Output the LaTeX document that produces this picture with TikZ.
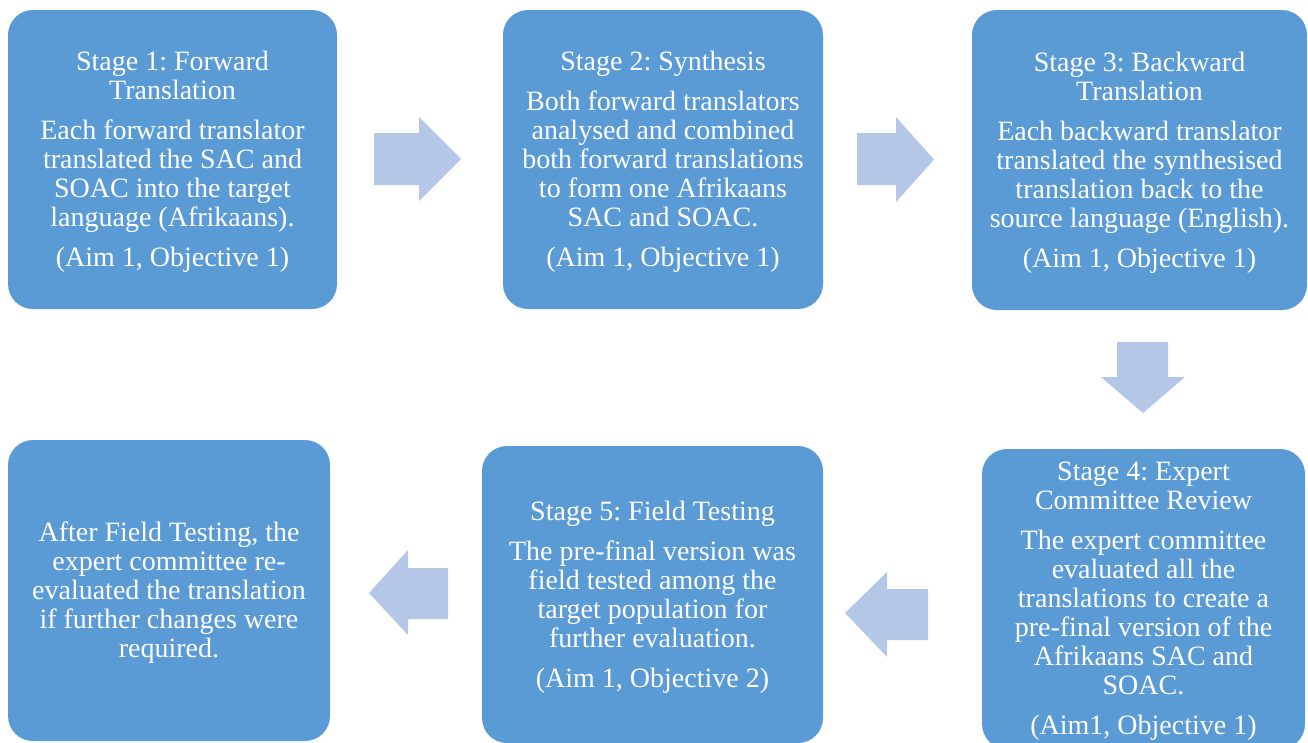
\documentclass[tikz,border=0pt]{standalone}
\usepackage{fontspec}
\setmainfont{Liberation Serif}
\frenchspacing
\definecolor{boxblue}{HTML}{5B9BD5}
\definecolor{arrowblue}{HTML}{B4C7E7}
\tikzset{
  stagebox/.style={fill=boxblue, draw=none, rounded corners=25pt, inner sep=0pt},
  stagetext/.style={text=white, align=center, inner sep=0pt,
    font=\fontsize{28}{29}\selectfont\frenchspacing},
  blockarrow/.style={fill=arrowblue, draw=none}
}
\begin{document}
\begin{tikzpicture}[x=1pt,y=-1pt]
\useasboundingbox (0,0) rectangle (1308,742);
\clip (0,0) rectangle (1308,742);
% boxes
\node[stagebox, minimum width=329pt, minimum height=299pt] (s1) at (172.5,159.5) {};
\node[stagebox, minimum width=320pt, minimum height=299pt] (s2) at (663,159.5) {};
\node[stagebox, minimum width=335pt, minimum height=300pt] (s3) at (1139.5,160) {};
\node[stagebox, minimum width=323pt, minimum height=300pt] (s4) at (1143.5,599) {};
\node[stagebox, minimum width=341pt, minimum height=297pt] (s5) at (652.5,594.5) {};
\node[stagebox, minimum width=322pt, minimum height=301pt] (s6) at (169,590.5) {};
% texts
\node[stagetext] (t1) at ([yshift=-2.5pt]s1.center)
  {Stage 1: Forward\\Translation\\[11pt]Each forward translator\\translated the SAC and\\SOAC into the target\\language (Afrikaans).\\[11pt](Aim 1, Objective 1)};
\node[stagetext] (t2) at ([yshift=-2.5pt]s2.center)
  {Stage 2: Synthesis\\[11pt]Both forward translators\\analysed and combined\\both forward translations\\to form one Afrikaans\\SAC and SOAC.\\[11pt](Aim 1, Objective 1)};
\node[stagetext] (t3) at ([yshift=-2.5pt]s3.center)
  {Stage 3: Backward\\Translation\\[11pt]Each backward translator\\translated the synthesised\\translation back to the\\source language (English).\\[11pt](Aim 1, Objective 1)};
\node[stagetext] (t4) at ([yshift=-2.5pt]s4.center)
  {Stage 4: Expert\\Committee Review\\[11pt]The expert committee\\evaluated all the\\translations to create a\\pre-final version of the\\Afrikaans SAC and\\SOAC.\\[11pt](Aim1, Objective 1)};
\node[stagetext] (t5) at ([yshift=-2.5pt]s5.center)
  {Stage 5: Field Testing\\[11pt]The pre-final version was\\field tested among the\\target population for\\further evaluation.\\[11pt](Aim 1, Objective 2)};
\node[stagetext] (t6) at ([yshift=-2.5pt]s6.center)
  {After Field Testing, the\\expert committee re-\\evaluated the translation\\if further changes were\\required.};
% block arrows
\fill[blockarrow] (374,133) -- (419,133) -- (419,117) -- (461,159) -- (419,201) -- (419,185) -- (374,185) -- cycle;
\fill[blockarrow] (857,133) -- (896,133) -- (896,117) -- (934,159.5) -- (896,202) -- (896,185) -- (857,185) -- cycle;
\fill[blockarrow] (1117,342) -- (1168,342) -- (1168,377) -- (1185,377) -- (1143,413) -- (1101,377) -- (1117,377) -- cycle;
\fill[blockarrow] (928,589) -- (887,589) -- (887,572) -- (845,613) -- (887,657) -- (887,640) -- (928,640) -- cycle;
\fill[blockarrow] (448,568) -- (408,568) -- (408,550) -- (369,593) -- (408,635) -- (408,619) -- (448,619) -- cycle;
\end{tikzpicture}
\end{document}
